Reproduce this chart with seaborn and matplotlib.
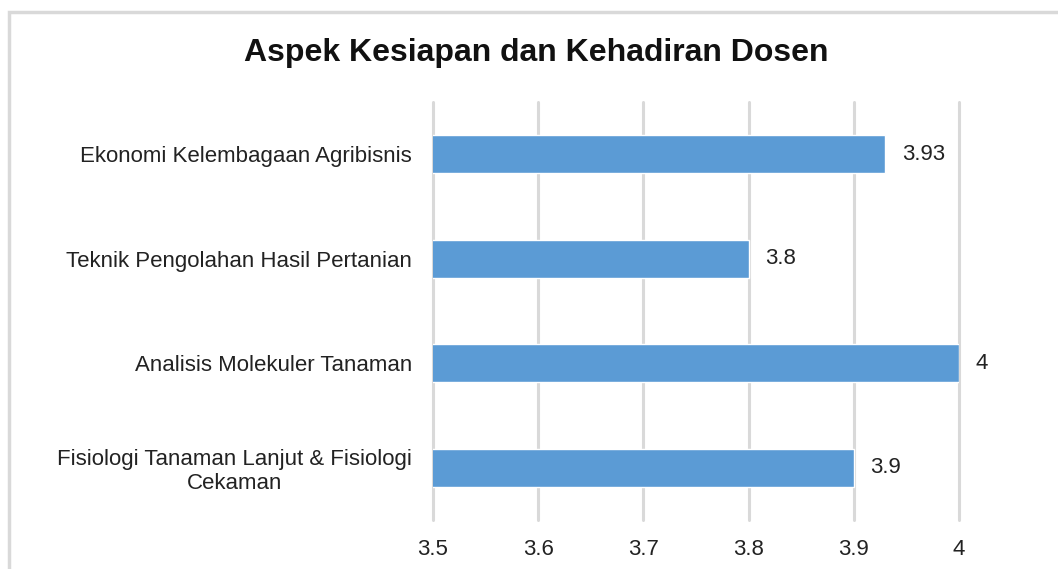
import matplotlib
matplotlib.use("Agg")
import matplotlib.pyplot as plt
import seaborn as sns
import pandas as pd
from matplotlib.patches import Rectangle

# data
categories = [
    "Ekonomi Kelembagaan Agribisnis",
    "Teknik Pengolahan Hasil Pertanian",
    "Analisis Molekuler Tanaman",
    "Fisiologi Tanaman Lanjut & Fisiologi\nCekaman",
]
scores = [3.93, 3.8, 4, 3.9]
value_labels = ["3.93", "3.8", "4", "3.9"]
x_ticks = [3.5, 3.6, 3.7, 3.8, 3.9, 4.0]
x_tick_labels = ["3.5", "3.6", "3.7", "3.8", "3.9", "4"]

df = pd.DataFrame({"Mata Kuliah": categories, "Skor": scores})

sns.set_style("white")
plt.rcParams["font.family"] = ["Liberation Sans", "DejaVu Sans"]

fig = plt.figure(figsize=(10.58, 5.69), dpi=100)
ax = fig.add_axes([0.4093, 0.0861, 0.4971, 0.7346])

sns.barplot(data=df, x="Skor", y="Mata Kuliah", orient="h", color="#5B9BD5",
            saturation=1, width=0.36, ax=ax, zorder=3)

ax.set_xlim(3.5, 4.0)
ax.set_xticks(x_ticks)
ax.set_xticklabels(x_tick_labels, fontsize=16, color="#222222")
ax.tick_params(axis="x", length=0, pad=14)
ax.tick_params(axis="y", length=0, pad=15)
for lbl in ax.get_yticklabels():
    lbl.set_fontsize(16)
    lbl.set_color("#222222")
    lbl.set_multialignment("center")
ax.set_xlabel("")
ax.set_ylabel("")
ax.xaxis.grid(True, color="#D9D9D9", linewidth=2.2, zorder=0)
for gl in ax.get_xgridlines():
    gl.set_clip_on(False)
ax.set_axisbelow(True)
for s in ax.spines.values():
    s.set_visible(False)

for bar, txt in zip(ax.patches, value_labels):
    ax.annotate(txt, (bar.get_width() + bar.get_x(), bar.get_y() + bar.get_height() / 2),
                xytext=(12, 0), textcoords="offset points", va="center", ha="left",
                fontsize=16, color="#222222")

fig.text(0.507, 0.907, "Aspek Kesiapan dan Kehadiran Dosen", ha="center", va="center",
         fontsize=23, fontweight="bold", color="#111111")

# chart frame (partly cropped in the source)
fig.patches.append(Rectangle((9 / 1058, -0.1), 1.2, 1 - 12 / 569 + 0.1,
                             transform=fig.transFigure, fill=False,
                             edgecolor="#D9D9D9", linewidth=2.5))

fig.savefig("out.png", dpi=100)
